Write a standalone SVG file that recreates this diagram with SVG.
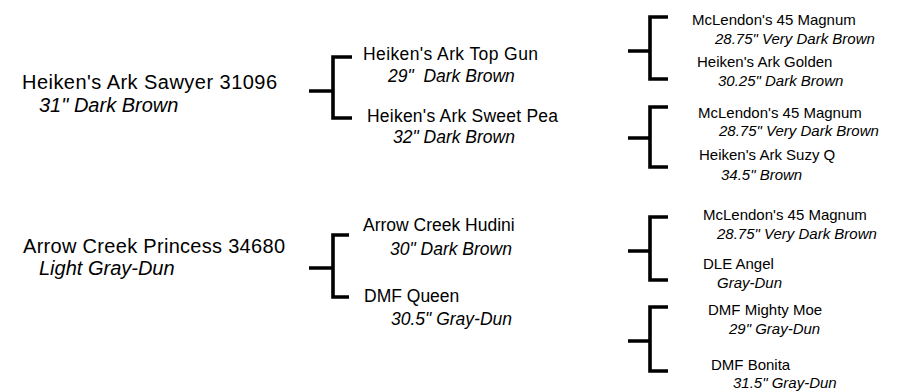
<svg xmlns="http://www.w3.org/2000/svg" width="905" height="391" viewBox="0 0 905 391">
<style>
text{font-family:"Liberation Sans",Arial,sans-serif;fill:#000}
.l{font-size:20px}
.m{font-size:17.5px}
.s{font-size:15px}
.i{font-style:italic}
.c{fill:none;stroke:#000;stroke-width:3.6;stroke-linejoin:miter}
</style>
<rect width="905" height="391" fill="#fff"/>
<g id="connectors">
<path class="c" d="M309,91H333M352,57H333V118H352"/>
<path class="c" d="M309,268H333M349,235H333V297H349"/>
<path class="c" d="M628,51H650M668,17H650V79H668"/>
<path class="c" d="M628,138H650M668,107H650V167H668"/>
<path class="c" d="M628,251H650M668,217H650V280H668"/>
<path class="c" d="M628,341H650M668,307H650V371H668"/>
</g>
<g id="sawyer"><text class="l" x="22" y="89" textLength="255">Heiken's Ark Sawyer 31096</text><text class="l i" x="39" y="112">31" Dark Brown</text></g>
<g id="princess"><text class="l" x="23" y="253" textLength="262">Arrow Creek Princess 34680</text><text class="l i" x="39" y="275">Light Gray-Dun</text></g>
<g id="topgun"><text class="m" x="363" y="60" textLength="175">Heiken's Ark Top Gun</text><text class="m i" x="388" y="82" xml:space="preserve">29"  Dark Brown</text></g>
<g id="sweetpea"><text class="m" x="367" y="122" textLength="191">Heiken's Ark Sweet Pea</text><text class="m i" x="393" y="143">32" Dark Brown</text></g>
<g id="hudini"><text class="m" x="363" y="231">Arrow Creek Hudini</text><text class="m i" x="390" y="255">30" Dark Brown</text></g>
<g id="queen"><text class="m" x="364" y="302">DMF Queen</text><text class="m i" x="391" y="325">30.5" Gray-Dun</text></g>
<g id="magnum1"><text class="s" x="692" y="25">McLendon's 45 Magnum</text><text class="s i" x="715" y="44">28.75" Very Dark Brown</text></g>
<g id="golden"><text class="s" x="697" y="67">Heiken's Ark Golden</text><text class="s i" x="718" y="86">30.25" Dark Brown</text></g>
<g id="magnum2"><text class="s" x="698" y="118">McLendon's 45 Magnum</text><text class="s i" x="719" y="136">28.75" Very Dark Brown</text></g>
<g id="suzyq"><text class="s" x="699" y="160">Heiken's Ark Suzy Q</text><text class="s i" x="721" y="180">34.5" Brown</text></g>
<g id="magnum3"><text class="s" x="703" y="220">McLendon's 45 Magnum</text><text class="s i" x="717" y="239">28.75" Very Dark Brown</text></g>
<g id="angel"><text class="s" x="703" y="269">DLE Angel</text><text class="s i" x="717" y="288">Gray-Dun</text></g>
<g id="mightymoe"><text class="s" x="708" y="315">DMF Mighty Moe</text><text class="s i" x="729" y="334">29" Gray-Dun</text></g>
<g id="bonita"><text class="s" x="711" y="370">DMF Bonita</text><text class="s i" x="733" y="388">31.5" Gray-Dun</text></g>
</svg>
